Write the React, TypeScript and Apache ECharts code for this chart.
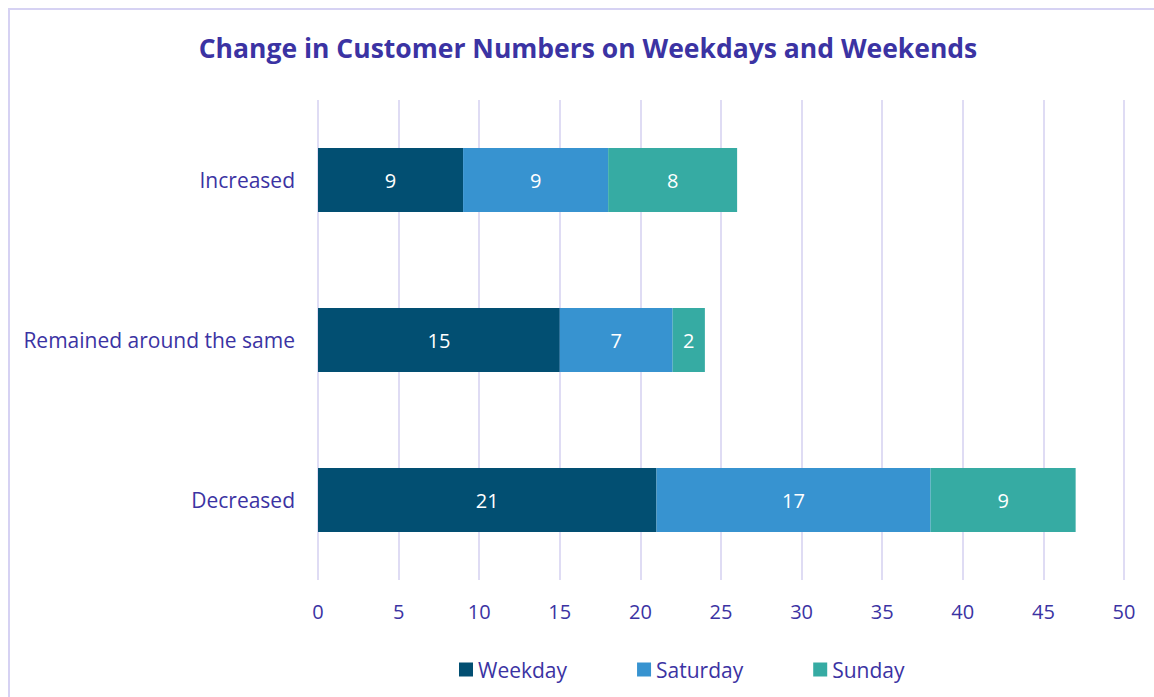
import React, { useEffect, useRef } from "react";
import * as echarts from "echarts";

const categories = ["Decreased", "Remained around the same", "Increased"];
const weekday = [21, 15, 9];
const saturday = [17, 7, 9];
const sunday = [9, 2, 8];
const xTicks = { min: 0, max: 50, interval: 5 };

const TEXT = "#3b33a3";
const FONT = "'Open Sans', 'Noto Sans', sans-serif";

export default function App() {
  const ref = useRef<HTMLDivElement>(null);
  useEffect(() => {
    document.documentElement.style.overflow = "hidden";
    document.body.style.overflow = "hidden";
    const chart = echarts.init(ref.current!, null, { renderer: "svg" });
    const label = {
      show: true,
      position: "inside",
      color: "#ffffff",
      fontSize: 20,
      fontFamily: FONT,
    };
    const mk = (name: string, data: number[], color: string) => ({
      name,
      type: "bar",
      stack: "total",
      data,
      barWidth: "40%",
      itemStyle: { color },
      label,
    });
    chart.setOption({
      animation: false,
      textStyle: { fontFamily: FONT },
      title: {
        text: "Change in Customer Numbers on Weekdays and Weekends",
        left: 575,
        textAlign: "center",
        top: 21,
        textStyle: { color: TEXT, fontSize: 26.5, fontWeight: "bold", fontFamily: FONT },
      },
      grid: { left: 310, right: 30, top: 92, bottom: 117 },
      xAxis: {
        type: "value",
        min: xTicks.min,
        max: xTicks.max,
        interval: xTicks.interval,
        axisLine: { show: false },
        axisTick: { show: false },
        axisLabel: { color: TEXT, fontSize: 20, margin: 21, fontFamily: FONT },
        splitLine: { show: true, lineStyle: { color: "#d5d1f1", width: 1.5 } },
      },
      yAxis: {
        type: "category",
        data: categories,
        axisLine: { show: false },
        axisTick: { show: false },
        axisLabel: { color: TEXT, fontSize: 21, margin: 23, fontFamily: FONT },
      },
      legend: {
        bottom: 17,
        left: 451,
        padding: 0,
        itemWidth: 14,
        itemHeight: 14,
        itemGap: 70,
        icon: "rect",
        textStyle: { color: TEXT, fontSize: 21, fontFamily: FONT },
        data: ["Weekday", "Saturday", "Sunday"],
      },
      series: [
        mk("Weekday", weekday, "#024f72"),
        mk("Saturday", saturday, "#3793d0"),
        mk("Sunday", sunday, "#36aba3"),
      ],
    });
    return () => chart.dispose();
  }, []);
  return (
    <div
      style={{
        position: "absolute",
        left: 8,
        top: 8,
        width: 1250,
        height: 760,
        borderTop: "2px solid #d6d2f3",
        borderLeft: "2px solid #d6d2f3",
        boxSizing: "border-box",
        overflow: "hidden",
      }}
    >
      <div ref={ref} style={{ width: 1146, height: 689, marginLeft: -2, marginTop: -2 }} />
    </div>
  );
}
